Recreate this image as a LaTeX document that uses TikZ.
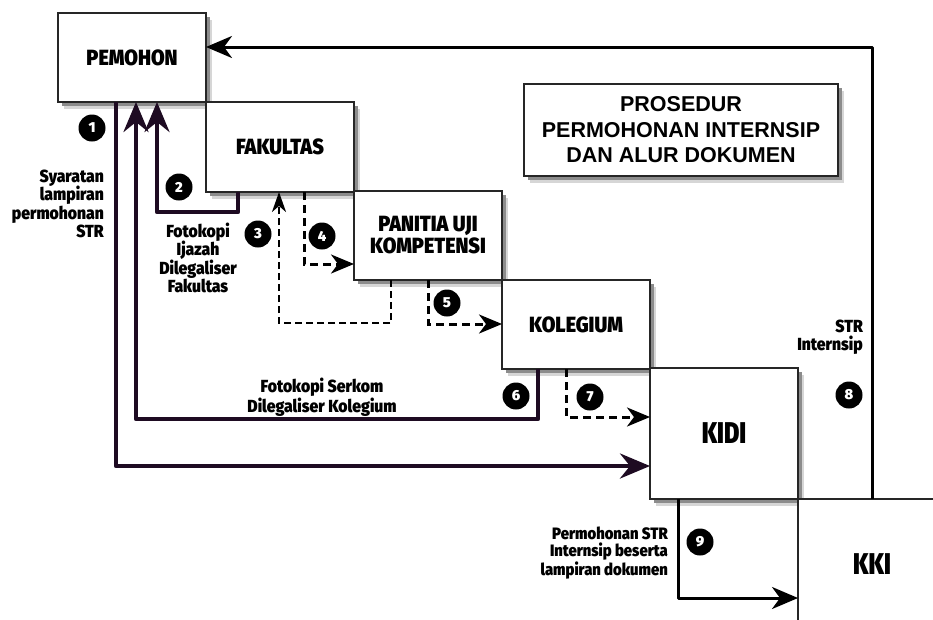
\documentclass[tikz,border=0pt]{standalone}
\usepackage{fontspec}
\setmainfont{Liberation Sans}
\newfontfamily\condf{Fira Sans}[UprightFont={* Black}, FakeStretch=0.9]
\newfontfamily\condk{Fira Sans}[UprightFont={* Black}, FakeStretch=0.78]
\newfontfamily\titlef{Liberation Sans Bold}
\newfontfamily\badgef{Fira Sans}[UprightFont={* Black}]
\usetikzlibrary{arrows.meta,calc,backgrounds}
\definecolor{linkpurple}{HTML}{1E0B22}
\begin{document}
\begin{tikzpicture}[x=1pt,y=-1pt,
  box/.style={draw=black!85, line width=1.1pt, fill=white, minimum width=148pt, minimum height=89pt,
    inner sep=0pt, outer sep=0pt, anchor=north west, align=center,
    font=\condf\fontsize{22}{22}\selectfont},
  bigbox/.style={box, minimum height=131pt, font=\condk\fontsize{30}{30}\selectfont},
  titlebox/.style={box, minimum width=314pt, minimum height=92pt, font=\titlef\fontsize{21.5}{25.5}\selectfont},
  badge/.style={circle, fill=black, minimum size=27pt, inner sep=0pt, text=white, font=\badgef\fontsize{14.5}{14.5}\selectfont},
  lbl/.style={inner sep=0pt, font=\condf\fontsize{17.5}{18.5}\selectfont},
  purp/.style={draw=linkpurple, line width=4.2pt, line join=round, -{Stealth[length=30pt,width=25pt,inset=10pt]}},
  blk/.style={draw=black, line width=3pt, line join=round, -{Stealth[length=26pt,width=22pt,inset=8pt]}},
  dsh/.style={draw=black, line width=3pt, dash pattern=on 8pt off 5pt, -{Stealth[length=23pt,width=19pt,inset=7pt]}},
  dshthin/.style={draw=black, line width=2pt, dash pattern=on 7pt off 4pt, -{Stealth[length=20pt,width=14pt,inset=6pt]}},
  shadowfar/.style={fill=black!16},
  shadownear/.style={fill=black!45}
]
\clip (0,0) rectangle (933,619);

% boxes
\node[box] (pem) at (58,13) {PEMOHON};
\node[box, minimum height=90pt] (fak) at (206,102) {FAKULTAS};
\node[box] (pan) at (354,191) {PANITIA UJI\\KOMPETENSI};
\node[box] (kol) at (502,280) {KOLEGIUM};
\node[bigbox] (kidi) at (650,368) {KIDI};
\node[bigbox] (kki) at (798,499) {KKI};
\node[titlebox] (title) at (524,84) {PROSEDUR\\PERMOHONAN INTERNSIP\\DAN ALUR DOKUMEN};

% background and drop shadows
\begin{scope}[on background layer]
  \fill[white] (0,0) rectangle (933,619);
  \foreach \n in {pem,fak,pan,kol,kidi,kki,title} {
    \fill[shadowfar] ($(\n.south west)+(6,6.5)$) rectangle ($(\n.north east)+(6,6.5)$);
    \fill[shadownear] ($(\n.south west)+(3.5,4)$) rectangle ($(\n.north east)+(3.5,4)$);
  }
\end{scope}

% bend coordinates
\coordinate (c1) at (116,466);
\coordinate (c2a) at (238,212);
\coordinate (c2b) at (157,212);
\coordinate (c6a) at (538,419);
\coordinate (c6b) at (136,419);
\coordinate (c3a) at (391,323);
\coordinate (c3b) at (279,323);
\coordinate (c4) at (304,264);
\coordinate (c5) at (428,324);
\coordinate (c7) at (566,417);
\coordinate (c8) at (872,47);
\coordinate (c9) at (678,598);

% connectors
\draw[purp] (pem.south -| c1) |- (kidi.west |- c1);
\draw[purp] (fak.south -| c2a) -- (c2a) -- (c2b) -- (pem.south -| c2b);
\draw[purp] (kol.south -| c6a) -- (c6a) -- (c6b) -- (pem.south -| c6b);
\draw[dshthin] (pan.south -| c3a) -- (c3a) -- (c3b) -- (fak.south -| c3b);
\draw[dsh] (fak.south -| c4) |- (pan.west |- c4);
\draw[dsh] (pan.south -| c5) |- (kol.west |- c5);
\draw[dsh] (kol.south -| c7) |- (kidi.west |- c7);
\draw[blk] (kki.north) |- (pem.east |- c8);
\draw[blk] (kidi.south -| c9) |- (kki.west |- c9);

% badges
\node[badge] (b1) at (92,128) {1};
\node[badge] (b2) at (179,187) {2};
\node[badge] (b3) at (258,234) {3};
\node[badge] (b4) at (322,236) {4};
\node[badge] (b5) at (447,303) {5};
\node[badge] (b6) at (516,396) {6};
\node[badge] (b7) at (590,397) {7};
\node[badge] (b8) at (849,395) {8};
\node[badge] (b9) at (700,542) {9};

% labels
\node[lbl, align=right, anchor=east] (l1) at (104,204) {Syaratan\\lampiran\\permohonan\\STR};
\node[lbl, align=center] (l2) at (198,258) {Fotokopi\\Ijazah\\Dilegaliser\\Fakultas};
\node[lbl, align=center, font=\condf\fontsize{17.5}{16.5}\selectfont] (l6) at (322,397) {Fotokopi Serkom\\Dilegaliser Kolegium};
\node[lbl, align=right, anchor=east] (l8) at (863,337) {STR\\Internsip};
\node[lbl, align=right, anchor=east, font=\condf\fontsize{16.5}{16.7}\selectfont] (l9) at (668,553) {Permohonan STR\\Internsip beserta\\lampiran dokumen};
\end{tikzpicture}
\end{document}
